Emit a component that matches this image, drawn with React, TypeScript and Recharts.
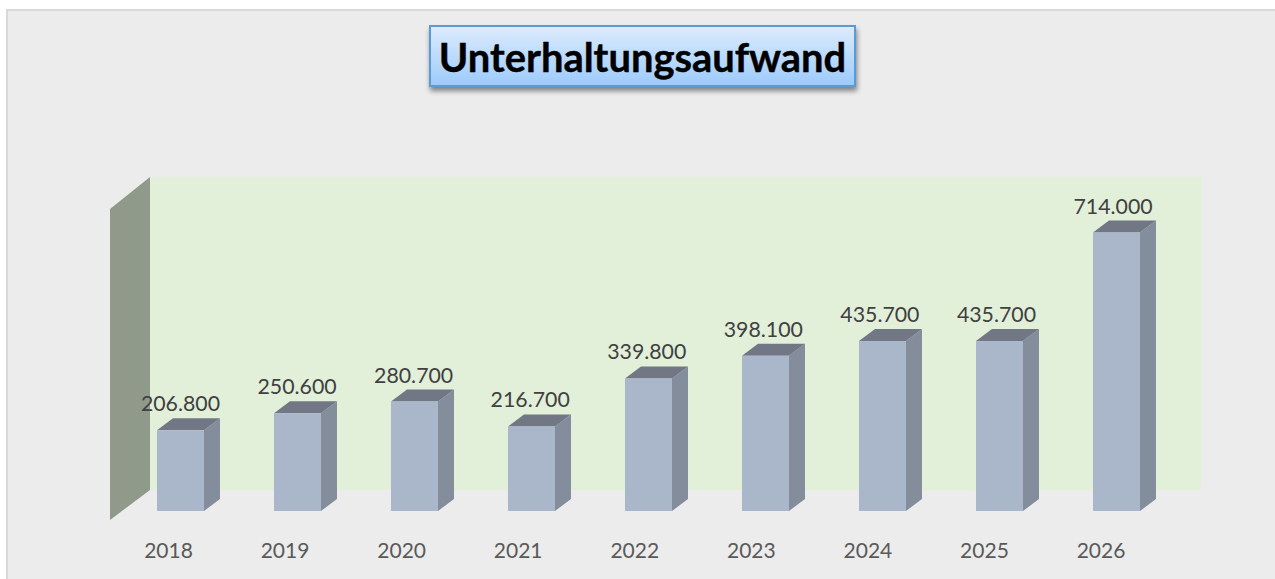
import { BarChart, Bar, XAxis, YAxis, LabelList } from "recharts";

const years = ["2018", "2019", "2020", "2021", "2022", "2023", "2024", "2025", "2026"];
const costs = [206800, 250600, 280700, 216700, 339800, 398100, 435700, 435700, 714000];

const data = years.map((year, i) => ({ year, cost: costs[i] }));

const FONT = "Lato, sans-serif";
const DEPTH_X = 16;
const DEPTH_Y = 12;
// text in the original sits on a slightly tighter step than the columns
const TEXT_DRIFT = 0.43;

// front face plus the two skewed faces, Excel 3D column look
function Column3D({ x, y, width, height }: any) {
  const right = x + width;
  const bottom = y + height;
  return (
    <g>
      <polygon
        points={`${right},${y} ${right + DEPTH_X},${y - DEPTH_Y} ${right + DEPTH_X},${bottom - DEPTH_Y} ${right},${bottom}`}
        fill="#838d9b"
      />
      <polygon
        points={`${x},${y} ${x + DEPTH_X},${y - DEPTH_Y} ${right + DEPTH_X},${y - DEPTH_Y} ${right},${y}`}
        fill="#717784"
      />
      <rect x={x} y={y} width={width} height={height} fill="#aab6ca" />
    </g>
  );
}

function YearTick({ x, y, payload, index }: any) {
  return (
    <text
      x={x - 12 - index * TEXT_DRIFT}
      y={y + 39}
      textAnchor="middle"
      fill="#595959"
      fontSize={21}
      fontFamily={FONT}
    >
      {payload.value}
    </text>
  );
}

function CostLabel({ x, y, width, value, index }: any) {
  return (
    <text
      x={x + width / 2 - index * TEXT_DRIFT}
      y={y - 19}
      textAnchor="middle"
      fill="#404040"
      fontSize={21.3}
      fontFamily={FONT}
    >
      {Number(value).toLocaleString("de-DE")}
    </text>
  );
}

function Walls() {
  return (
    <svg width={1275} height={579} style={{ position: "absolute", left: 0, top: 0 }}>
      <rect x={150} y={177} width={1051} height={313} fill="#e2efd9" />
      <polygon points="110,209 150,177 150,490 110,520" fill="#8f9a8b" />
    </svg>
  );
}

export default function App() {
  return (
    <div style={{ position: "absolute", left: 0, top: 0, width: 1275, height: 579, background: "#fff", overflow: "hidden" }}>
      <div
        style={{
          position: "absolute",
          left: 6,
          top: 9,
          width: 1269,
          height: 570,
          boxSizing: "border-box",
          background: "#ececec",
          borderLeft: "2px solid #d9d9d9",
          borderTop: "2px solid #d9d9d9",
        }}
      />
      <Walls />
      <div style={{ position: "absolute", left: 0, top: 0 }}>
        <BarChart
          width={1275}
          height={579}
          data={data}
          margin={{ top: 199, right: 100, bottom: 18, left: 122 }}
          barCategoryGap="29.9%"
        >
          <XAxis
            dataKey="year"
            height={50}
            axisLine={false}
            tickLine={false}
            tick={<YearTick />}
            interval={0}
          />
          <YAxis hide domain={[0, 800000]} />
          <Bar dataKey="cost" isAnimationActive={false} shape={<Column3D />}>
            <LabelList dataKey="cost" content={<CostLabel />} />
          </Bar>
        </BarChart>
      </div>
      <div
        style={{
          position: "absolute",
          left: 429,
          top: 25,
          width: 427,
          height: 62,
          boxSizing: "border-box",
          border: "2px solid #5b9bd5",
          background: "linear-gradient(#dcebfd, #9dcbfb)",
          boxShadow: "1px 4px 5px rgba(0,0,0,0.45)",
          display: "flex",
          alignItems: "center",
          justifyContent: "center",
          color: "#000",
          fontFamily: FONT,
          fontWeight: 700,
          fontSize: 39.9,
          WebkitTextStroke: "0.4px #000",
          whiteSpace: "nowrap",
        }}
      >
        Unterhaltungsaufwand
      </div>
    </div>
  );
}
